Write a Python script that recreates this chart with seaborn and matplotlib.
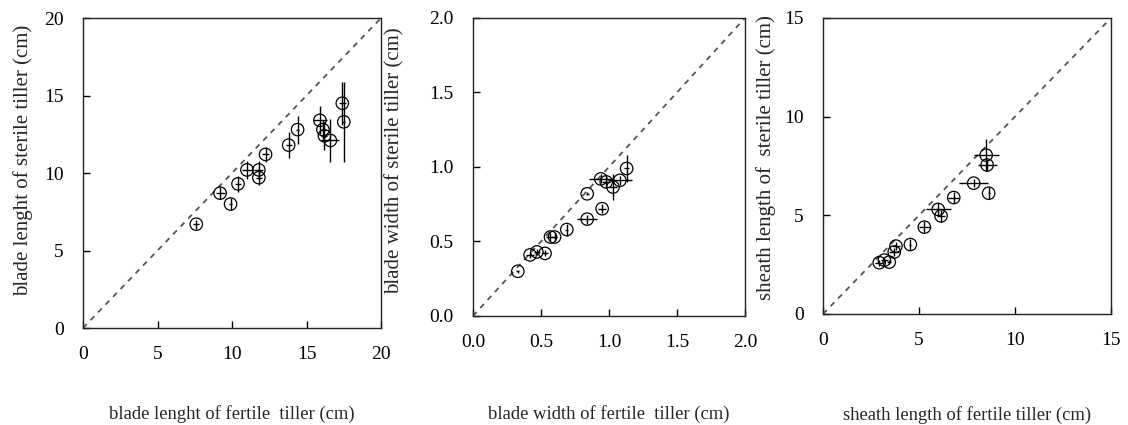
import matplotlib
matplotlib.use('Agg')
import matplotlib.pyplot as plt
import seaborn as sns
import pandas as pd

# blade length (cm)
len_fertile = [7.6, 9.2, 9.9, 10.4, 11.0, 11.8, 11.8, 12.25, 13.8, 14.4, 15.9, 16.1, 16.2, 16.6, 17.4, 17.5]
len_sterile = [6.7, 8.7, 8.0, 9.3, 10.2, 10.2, 9.7, 11.2, 11.8, 12.8, 13.4, 12.8, 12.4, 12.1, 14.5, 13.3]
len_xerr = [0.2, 0.3, 0.1, 0.2, 0.35, 0.3, 0.2, 0.25, 0.2, 0.1, 0.45, 0.2, 0.2, 0.6, 0.25, 0.1]
len_yerr = [0.3, 0.4, 0.4, 0.5, 0.6, 0.6, 0.5, 0.5, 0.85, 0.9, 0.9, 0.6, 0.9, 1.4, 1.4, 2.6]

# blade width (cm)
wid_fertile = [0.33, 0.42, 0.47, 0.53, 0.57, 0.60, 0.69, 0.84, 0.84, 0.95, 0.94, 0.98, 1.03, 1.08, 1.13]
wid_sterile = [0.30, 0.41, 0.43, 0.42, 0.53, 0.53, 0.58, 0.65, 0.82, 0.72, 0.92, 0.90, 0.865, 0.91, 0.99]
wid_xerr = [0.01, 0.03, 0.02, 0.02, 0.03, 0.02, 0.01, 0.075, 0.01, 0.03, 0.09, 0.03, 0.03, 0.09, 0.02]
wid_yerr = [0.01, 0.02, 0.02, 0.02, 0.03, 0.03, 0.04, 0.03, 0.01, 0.03, 0.03, 0.04, 0.085, 0.03, 0.09]

# sheath length (cm)
sh_fertile = [2.93, 3.2, 3.45, 3.71, 3.8, 4.55, 5.28, 6.0, 6.15, 6.81, 7.85, 8.63, 8.5, 8.55]
sh_sterile = [2.6, 2.73, 2.63, 3.14, 3.44, 3.52, 4.4, 5.3, 4.97, 5.9, 6.63, 6.12, 8.05, 7.55]
sh_xerr = [0.2, 0.2, 0.1, 0.25, 0.2, 0.05, 0.3, 0.65, 0.2, 0.3, 0.75, 0.05, 0.65, 0.5]
sh_yerr = [0.15, 0.15, 0.1, 0.2, 0.2, 0.3, 0.3, 0.3, 0.3, 0.3, 0.2, 0.3, 0.8, 0.3]

panels = [
    dict(x=len_fertile, y=len_sterile, xerr=len_xerr, yerr=len_yerr, lim=20, ticks=[0, 5, 10, 15, 20],
         fmt='{:.0f}', xlabel='blade lenght of fertile  tiller (cm)', ylabel='blade lenght of sterile tiller (cm)',
         pos=[0.0736, 0.2282, 0.2642, 0.7294], xl=-0.25, yl=(-0.167, 0.54)),
    dict(x=wid_fertile, y=wid_sterile, xerr=wid_xerr, yerr=wid_yerr, lim=2.0, ticks=[0.0, 0.5, 1.0, 1.5, 2.0],
         fmt='{:.1f}', xlabel='blade width of fertile  tiller (cm)', ylabel='blade width of sterile tiller (cm)',
         pos=[0.4193, 0.2565, 0.2411, 0.7012], xl=-0.30, yl=(-0.25, 0.52)),
    dict(x=sh_fertile, y=sh_sterile, xerr=sh_xerr, yerr=sh_yerr, lim=15, ticks=[0, 5, 10, 15],
         fmt='{:.0f}', xlabel='sheath length of fertile tiller (cm)', ylabel='sheath length of  sterile tiller (cm)',
         pos=[0.7296, 0.2612, 0.2553, 0.6965], xl=-0.31, yl=(-0.163, 0.53)),
]

sns.set_style('ticks')
plt.rcParams['font.family'] = ['Liberation Serif', 'DejaVu Serif']

fig = plt.figure(figsize=(11.28, 4.25), dpi=100)

for p in panels:
    ax = fig.add_axes(p['pos'])
    df = pd.DataFrame({'x': p['x'], 'y': p['y']})

    # 1:1 reference line
    ax.plot([0, p['lim']], [0, p['lim']], linestyle=(0, (3, 3)), color='#555555', linewidth=1.3, zorder=1)

    # error bars, no caps
    ax.errorbar(df['x'], df['y'], xerr=p['xerr'], yerr=p['yerr'], fmt='none',
                ecolor='black', elinewidth=1.0, capsize=0, zorder=2)

    # open circles
    sns.scatterplot(data=df, x='x', y='y', ax=ax, marker='o', s=80,
                    facecolor='none', edgecolor='black', linewidth=0.9, zorder=3)

    ax.set_xlim(0, p['lim'])
    ax.set_ylim(0, p['lim'])
    ax.set_xticks(p['ticks'])
    ax.set_yticks(p['ticks'])
    ax.set_xticklabels([p['fmt'].format(t) for t in p['ticks']])
    ax.set_yticklabels([p['fmt'].format(t) for t in p['ticks']])
    ax.tick_params(direction='in', length=5, width=1, labelsize=14, pad=13, colors='black')
    ax.tick_params(axis='y', pad=14)
    for s in ax.spines.values():
        s.set_visible(True)
        s.set_linewidth(1.0)
        s.set_color('#222222')

    ax.set_xlabel(p['xlabel'], fontsize=13.4)
    ax.set_ylabel(p['ylabel'], fontsize=15)
    ax.xaxis.set_label_coords(0.5, p['xl'])
    ax.yaxis.set_label_coords(*p['yl'])

fig.savefig('out.png', dpi=100, facecolor='white')
